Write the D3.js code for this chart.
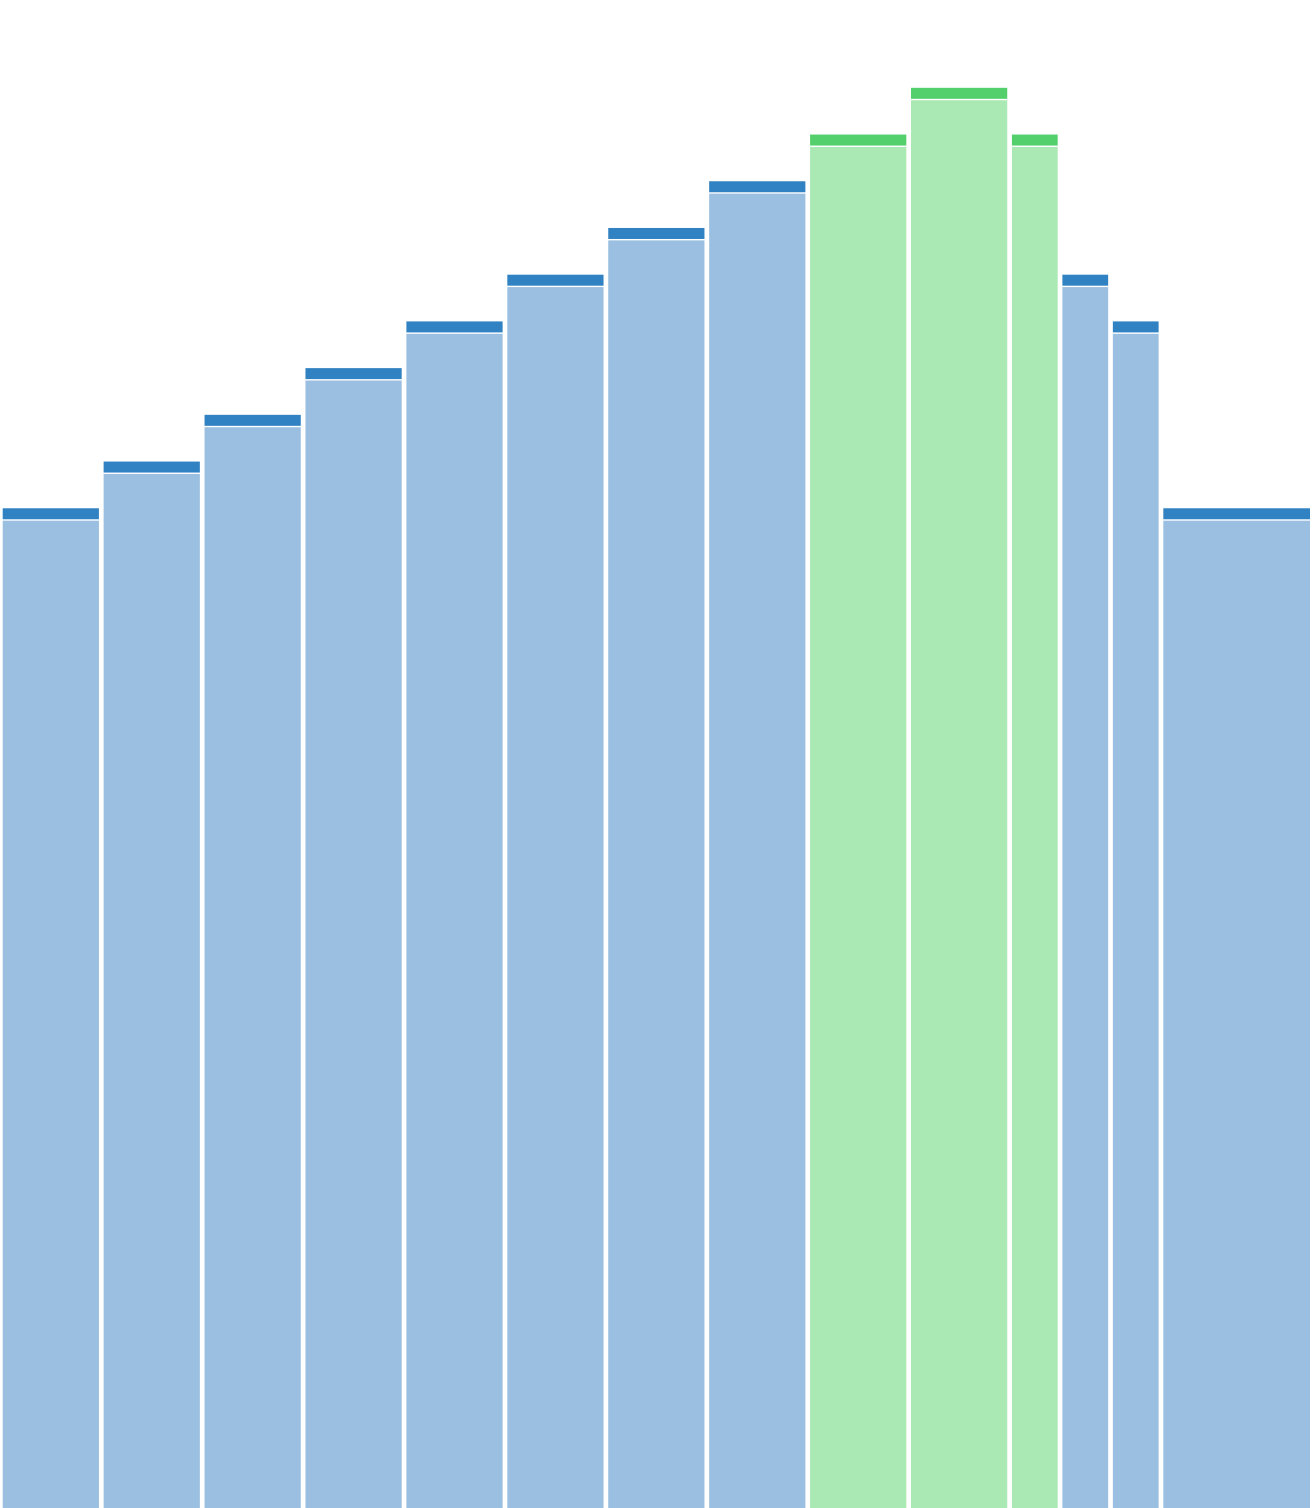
<!DOCTYPE html>
<html>
<head>
<meta charset="utf-8">
<script src="https://cdn.jsdelivr.net/npm/d3@7"></script>
<style>
  html, body { margin: 0; padding: 0; background: #fff; overflow: hidden; }
  svg { display: block; }
</style>
</head>
<body>
<svg></svg>
<script>
const levels = [21, 22, 23, 24, 25, 26, 27, 28, 29, 30, 29, 26, 25, 21];
const spans = [1, 1, 1, 1, 1, 1, 1, 1, 1, 1, 0.5, 0.5, 0.5, 1.5];
const groups = ["base", "base", "base", "base", "base", "base", "base", "base",
  "peak", "peak", "peak", "base", "base", "base"];

const width = 1312;
const height = 1508;
const capHeight = 11;
const capGap = 1.4;

const palette = {
  base: { cap: "#3182c2", body: "#9abfe0" },
  peak: { cap: "#53d06c", body: "#aae8b4" },
};

// cumulative left edges, in span units
const starts = spans.reduce((acc, s, i) => {
  acc.push(i ? acc[i - 1] + spans[i - 1] : 0);
  return acc;
}, []);

const data = levels.map((level, i) => ({
  level,
  x0: starts[i],
  x1: starts[i] + spans[i],
  group: groups[i],
}));

const x = d3.scaleLinear().domain([0, d3.sum(spans)]).range([0, width]);
const y = d3.scaleLinear().domain([-0.4, 31.88]).range([height, 0]);

const svg = d3.select("svg").attr("width", width).attr("height", height);

const bars = svg
  .append("g")
  .selectAll("g")
  .data(data)
  .enter()
  .append("g");

// lighter body below the cap
bars
  .append("rect")
  .attr("x", (d) => x(d.x0) + 2.7)
  .attr("width", (d) => x(d.x1) - x(d.x0) - 4.7)
  .attr("y", (d) => y(d.level) + capHeight + capGap)
  .attr("height", (d) => height - (y(d.level) + capHeight + capGap))
  .attr("fill", (d) => palette[d.group].body);

// darker cap on top
bars
  .append("rect")
  .attr("x", (d) => x(d.x0) + 2.7)
  .attr("width", (d) => x(d.x1) - x(d.x0) - 4.7)
  .attr("y", (d) => y(d.level))
  .attr("height", capHeight)
  .attr("fill", (d) => palette[d.group].cap);
</script>
</body>
</html>
